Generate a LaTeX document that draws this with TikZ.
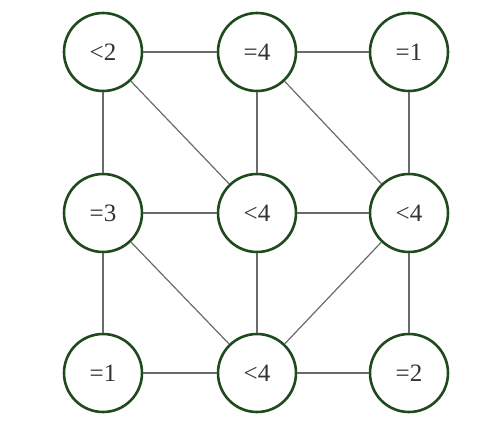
\documentclass[tikz,border=0pt]{standalone}
\usepackage{fontspec}
\setmainfont{Liberation Serif}
\definecolor{ringgreen}{HTML}{1E4A1E}
\definecolor{edgegray}{HTML}{6A6A6A}
\begin{document}
\begin{tikzpicture}[x=1pt,y=-1pt,
  cell/.style={circle,draw=ringgreen,line width=2.6pt,fill=white,minimum size=78pt,inner sep=0pt,font=\fontsize{25}{29}\selectfont,text=black!80},
  link/.style={draw=edgegray,line width=1.2pt}]
\useasboundingbox (0,0) rectangle (494,442);
\node[cell] (a1) at (103,52) {<2};
\node[cell] (a2) at (257,52) {=4};
\node[cell] (a3) at (409,52) {=1};
\node[cell] (b1) at (103,213) {=3};
\node[cell] (b2) at (257,213) {<4};
\node[cell] (b3) at (409,213) {<4};
\node[cell] (c1) at (103,373) {=1};
\node[cell] (c2) at (257,373) {<4};
\node[cell] (c3) at (409,373) {=2};
\draw[link] (a1) -- (a2);
\draw[link] (a2) -- (a3);
\draw[link] (a1) -- (b1);
\draw[link] (a1) -- (b2);
\draw[link] (a2) -- (b2);
\draw[link] (a2) -- (b3);
\draw[link] (a3) -- (b3);
\draw[link] (b1) -- (b2);
\draw[link] (b2) -- (b3);
\draw[link] (b1) -- (c1);
\draw[link] (b1) -- (c2);
\draw[link] (b2) -- (c2);
\draw[link] (b3) -- (c2);
\draw[link] (b3) -- (c3);
\draw[link] (c1) -- (c2);
\draw[link] (c2) -- (c3);
\end{tikzpicture}
\end{document}
